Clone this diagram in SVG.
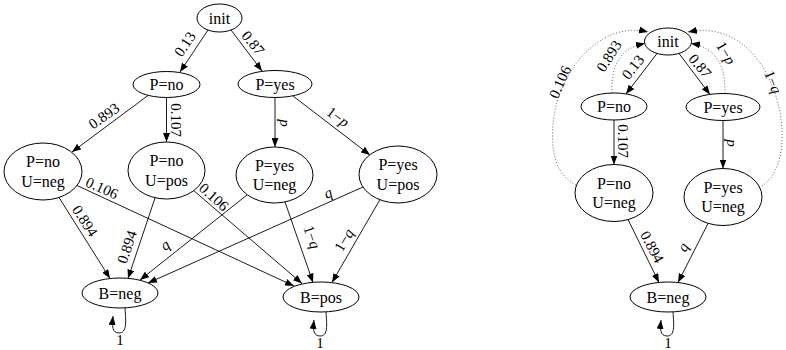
<svg xmlns="http://www.w3.org/2000/svg" width="786" height="350" viewBox="0 0 786 350">
<defs>
<marker id="arr" viewBox="0 0 9 7" refX="9" refY="3.5" markerWidth="9" markerHeight="7" markerUnits="userSpaceOnUse" orient="auto"><path d="M0,0 L9,3.5 L0,7 z" fill="#000"/></marker>
<marker id="arrg" viewBox="0 0 9 7" refX="9" refY="3.5" markerWidth="9" markerHeight="7" markerUnits="userSpaceOnUse" orient="auto"><path d="M0,0 L9,3.5 L0,7 z" fill="#000"/></marker>
</defs>
<style>
.n{fill:#fff;stroke:#000;stroke-width:1}
.t{font-size:16px;text-anchor:middle;fill:#000}
.l{font-size:15px;text-anchor:middle;fill:#000}
.e{fill:none;stroke:#000;stroke-width:0.9;marker-end:url(#arr)}
.d{fill:none;stroke:#666;stroke-width:1;stroke-dasharray:1 2;marker-end:url(#arrg)}
.i{font-style:italic}
</style>
<rect width="786" height="350" fill="#fff"/>
<g id="edges" font-family="'Liberation Serif', 'DejaVu Serif', serif">
<path class="e" d="M208,30 L180,72"/>
<path class="e" d="M231,30 L262,71"/>
<path class="e" d="M148,95.5 L72,152"/>
<path class="e" d="M166.5,97.5 L166.5,142"/>
<path class="e" d="M275,97.5 L275,147"/>
<path class="e" d="M293,96 L370,155"/>
<path class="e" d="M59,197.5 L110,278.5"/>
<path class="e" d="M77,185.5 L294,286"/>
<path class="e" d="M155,198 L128,278.5"/>
<path class="e" d="M193,190 L302,283.5"/>
<path class="e" d="M247,195 L140,280"/>
<path class="e" d="M285,202 L313,282.5"/>
<path class="e" d="M363,187 L148,283"/>
<path class="e" d="M380,199.5 L332,282.5"/>
<path class="e" d="M125,308 C126,322 127,333 119,333 C112,333 112,326 113,316"/>
<path class="e" d="M326,312 C327,326 328,336 320,336 C313,336 313,329 314,320"/>
<path class="e" d="M657,53.5 L626,94"/>
<path class="e" d="M679,53.5 L710,94.5"/>
<path class="e" d="M614,120 L614,164.5"/>
<path class="e" d="M723,120.5 L723,168.5"/>
<path class="e" d="M628,219.5 L659,282.5"/>
<path class="e" d="M708,223.5 L678,282.5"/>
<path class="e" d="M673,312 C674,326 675,336 667,336 C660,336 660,329 661,320"/>
<path class="d" d="M612,93 C611,62 622,48 645,43.5"/>
<path class="d" d="M576,185 C555,175 551,150 553,125 C556,75 598,20 648,32"/>
<path class="d" d="M725,93.5 C726,62 713,47 691,43.5"/>
<path class="d" d="M762,186 C779,175 783,150 782,130 C780,85 750,20 688,32"/>
<text class="l" transform="translate(185,44) rotate(-56)" y="5">0.13</text>
<text class="l" transform="translate(253,43) rotate(51)" y="5">0.87</text>
<text class="l" transform="translate(104,116) rotate(-35)" y="5">0.893</text>
<text class="l" transform="translate(176,120) rotate(90)" y="5">0.107</text>
<text class="l i" transform="translate(285,123) rotate(90)" y="5">p</text>
<text class="l" transform="translate(338,117) rotate(36.5)" y="5">1−<tspan class="i">p</tspan></text>
<text class="l" transform="translate(102,188) rotate(24)" y="5">0.106</text>
<text class="l" transform="translate(85,221) rotate(57)" y="5">0.894</text>
<text class="l" transform="translate(127,247) rotate(-71)" y="5">0.894</text>
<text class="l" transform="translate(214,197) rotate(42)" y="5">0.106</text>
<text class="l i" transform="translate(165,245) rotate(-37)" y="5">q</text>
<text class="l i" transform="translate(328,193) rotate(-23)" y="5">q</text>
<text class="l" transform="translate(312,237) rotate(70)" y="5">1−<tspan class="i">q</tspan></text>
<text class="l" transform="translate(344,240) rotate(-59)" y="5">1−<tspan class="i">q</tspan></text>
<text class="l" x="120" y="345">1</text>
<text class="l" x="320" y="348">1</text>
<text class="l" transform="translate(633,67) rotate(-52)" y="5">0.13</text>
<text class="l" transform="translate(700,66) rotate(50)" y="5">0.87</text>
<text class="l" transform="translate(609,56) rotate(-58)" y="5">0.893</text>
<text class="l" transform="translate(560,82) rotate(-66)" y="5">0.106</text>
<text class="l" transform="translate(726,53) rotate(60)" y="5">1−<tspan class="i">p</tspan></text>
<text class="l" transform="translate(773,82) rotate(68)" y="5">1−<tspan class="i">q</tspan></text>
<text class="l" transform="translate(623,141) rotate(90)" y="5">0.107</text>
<text class="l i" transform="translate(732,143) rotate(90)" y="5">p</text>
<text class="l" transform="translate(652,247) rotate(62)" y="5">0.894</text>
<text class="l i" transform="translate(683,247) rotate(-61)" y="5">q</text>
<text class="l" x="668" y="348">1</text>
</g>
<g font-family="'Liberation Serif', 'DejaVu Serif', serif">
<g id="L_init"><ellipse class="n" cx="219.5" cy="18" rx="22.5" ry="14"/><text class="t" x="219.5" y="23.5">init</text></g>
<g id="L_Pno"><ellipse class="n" cx="166.5" cy="84.5" rx="33.5" ry="13"/><text class="t" x="166.5" y="90">P=no</text></g>
<g id="L_Pyes"><ellipse class="n" cx="275" cy="84" rx="37" ry="13.5"/><text class="t" x="275" y="89.5">P=yes</text></g>
<g id="L_PnoUneg"><ellipse class="n" cx="43" cy="171.5" rx="39" ry="28.5"/><text class="t" x="43" y="167">P=no</text><text class="t" x="43" y="186.5">U=neg</text></g>
<g id="L_PnoUpos"><ellipse class="n" cx="166.5" cy="170.5" rx="38.5" ry="28.5"/><text class="t" x="166.5" y="166">P=no</text><text class="t" x="166.5" y="185.5">U=pos</text></g>
<g id="L_PyesUneg"><ellipse class="n" cx="274.5" cy="175" rx="38.5" ry="28"/><text class="t" x="274.5" y="170.5">P=yes</text><text class="t" x="274.5" y="190">U=neg</text></g>
<g id="L_PyesUpos"><ellipse class="n" cx="398" cy="174.5" rx="39" ry="28.5"/><text class="t" x="398" y="170">P=yes</text><text class="t" x="398" y="189.5">U=pos</text></g>
<g id="L_Bneg"><ellipse class="n" cx="120" cy="293" rx="38" ry="15"/><text class="t" x="120" y="298.5">B=neg</text></g>
<g id="L_Bpos"><ellipse class="n" cx="321" cy="297" rx="38" ry="15"/><text class="t" x="321" y="302.5">B=pos</text></g>
<g id="R_init"><ellipse class="n" cx="668" cy="41.5" rx="23.5" ry="13.5"/><text class="t" x="668" y="47">init</text></g>
<g id="R_Pno"><ellipse class="n" cx="614" cy="106.5" rx="33" ry="13.5"/><text class="t" x="614" y="112">P=no</text></g>
<g id="R_Pyes"><ellipse class="n" cx="723" cy="107" rx="37" ry="13.5"/><text class="t" x="723" y="112.5">P=yes</text></g>
<g id="R_PnoUneg"><ellipse class="n" cx="614" cy="193" rx="39" ry="28.5"/><text class="t" x="614" y="188.5">P=no</text><text class="t" x="614" y="208">U=neg</text></g>
<g id="R_PyesUneg"><ellipse class="n" cx="723" cy="197" rx="39" ry="28.5"/><text class="t" x="723" y="192.5">P=yes</text><text class="t" x="723" y="212">U=neg</text></g>
<g id="R_Bneg"><ellipse class="n" cx="668" cy="297" rx="38" ry="15"/><text class="t" x="668" y="302.5">B=neg</text></g>
</g>
</svg>
